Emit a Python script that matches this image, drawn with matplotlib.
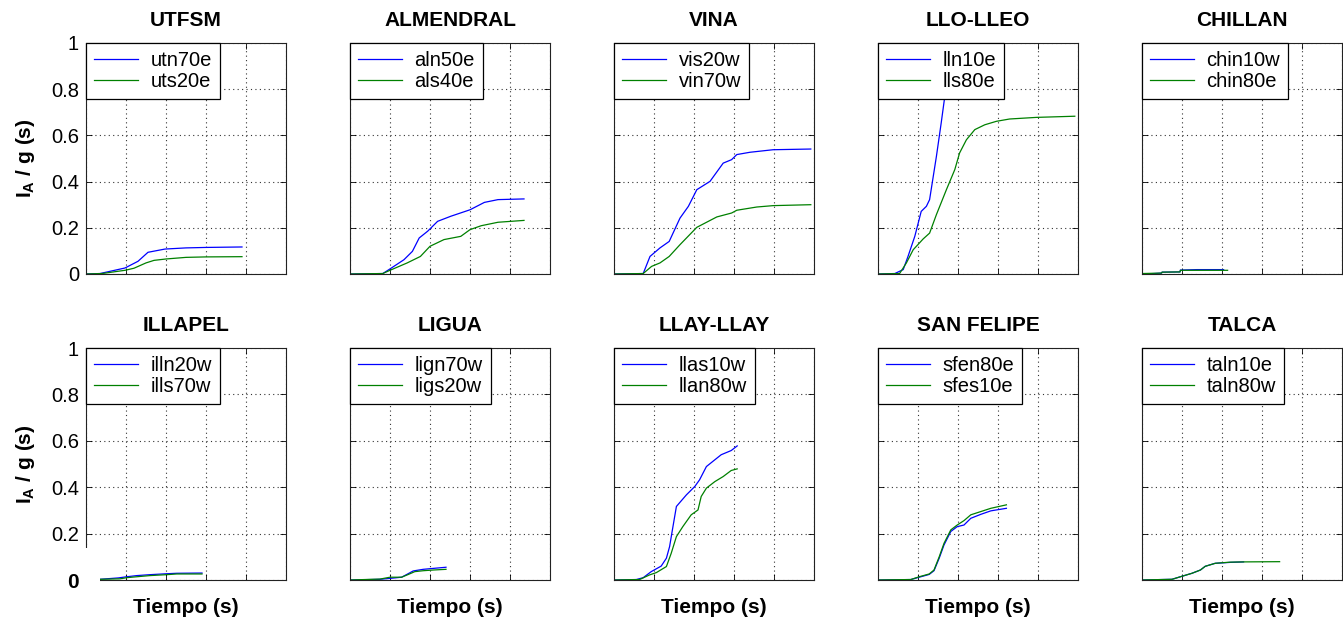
import matplotlib
matplotlib.use("Agg")
import matplotlib.pyplot as plt
from matplotlib.patches import Rectangle

plt.rcParams['font.family'] = ['Liberation Sans', 'DejaVu Sans']
plt.rcParams['mathtext.fontset'] = 'custom'
plt.rcParams['mathtext.rm'] = 'Liberation Sans'
plt.rcParams['mathtext.bf'] = 'Liberation Sans:bold'

# ---------------- data (time in s, Arias intensity I_A/g in s) ----------------
stations = ["UTFSM", "ALMENDRAL", "VINA", "LLO-LLEO", "CHILLAN",
            "ILLAPEL", "LIGUA", "LLAY-LLAY", "SAN FELIPE", "TALCA"]

names_1 = ["utn70e", "aln50e", "vis20w", "lln10e", "chin10w",
           "illn20w", "lign70w", "llas10w", "sfen80e", "taln10e"]
names_2 = ["uts20e", "als40e", "vin70w", "lls80e", "chin80e",
           "ills70w", "ligs20w", "llan80w", "sfes10e", "taln80w"]

# UTFSM
t_utn70e = [0, 3.5, 9.75, 13, 15.5, 19.75, 25, 30, 39]
ia_utn70e = [0, 0.002, 0.026, 0.055, 0.094, 0.108, 0.113, 0.115, 0.117]
t_uts20e = [0, 4, 9.75, 12, 15, 17, 20, 25, 30, 39]
ia_uts20e = [0, 0.002, 0.016, 0.025, 0.048, 0.059, 0.065, 0.072, 0.074, 0.075]

# ALMENDRAL
t_aln50e = [0, 8.2, 10, 13.5, 15.6, 17.3, 19.4, 21.9, 25.2, 30, 33.6, 37, 43.5]
ia_aln50e = [0, 0.002, 0.022, 0.062, 0.098, 0.156, 0.185, 0.228, 0.25, 0.278, 0.31, 0.322, 0.325]
t_als40e = [0, 8.2, 10, 14.3, 17.6, 20, 23.5, 27.7, 30, 32.8, 37, 43.5]
ia_als40e = [0, 0.002, 0.016, 0.048, 0.076, 0.12, 0.149, 0.163, 0.192, 0.209, 0.224, 0.232]

# VINA
t_vis20w = [0, 7.3, 9, 11.5, 13.8, 16.5, 18.6, 20.7, 24, 27.3, 29.4, 30.7, 34, 39.8, 49.2]
ia_vis20w = [0, 0.002, 0.076, 0.113, 0.141, 0.242, 0.293, 0.365, 0.401, 0.48, 0.495, 0.517, 0.527, 0.538, 0.541]
t_vin70w = [0, 7.3, 9.4, 11.5, 13.8, 16.5, 20.7, 25.7, 29.4, 30.7, 35.7, 39.8, 49.2]
ia_vin70w = [0, 0.002, 0.033, 0.048, 0.076, 0.127, 0.202, 0.247, 0.264, 0.276, 0.29, 0.296, 0.3]

# LLO-LLEO
t_lln10e = [0, 4.2, 6.3, 7.5, 9.2, 10.8, 12.1, 12.9, 14.6, 15.8, 16.7, 17.1, 17.6, 19, 22, 30, 45]
ia_lln10e = [0, 0.002, 0.019, 0.076, 0.163, 0.271, 0.293, 0.322, 0.509, 0.654, 0.769, 0.834, 0.9, 1.05, 1.2, 1.3, 1.35]
t_lls80e = [0, 5.4, 7.1, 8.8, 11.3, 12.9, 14.6, 17.1, 19.2, 20.4, 22.1, 24.2, 26.7, 29.6, 32.9, 39.6, 49.2]
ia_lls80e = [0, 0.002, 0.048, 0.105, 0.152, 0.177, 0.257, 0.365, 0.452, 0.524, 0.581, 0.625, 0.646, 0.661, 0.671, 0.678, 0.683]

# CHILLAN
t_chin10w = [0, 3, 4.9, 5, 9.5, 9.6, 13.7, 20.4]
ia_chin10w = [0, 0.002, 0.004, 0.008, 0.009, 0.017, 0.019, 0.019]
t_chin80e = [0, 4.9, 5, 9.5, 9.6, 21.4]
ia_chin80e = [0.002, 0.004, 0.008, 0.009, 0.016, 0.016]

# ILLAPEL
t_illn20w = [0, 3.5, 8.1, 10.2, 12.7, 16, 20.2, 22.7, 29]
ia_illn20w = [0, 0.003, 0.009, 0.014, 0.019, 0.023, 0.027, 0.029, 0.03]
t_ills70w = [0, 3.5, 8.5, 10.2, 12.7, 16, 20.2, 22.7, 29]
ia_ills70w = [0, 0.003, 0.005, 0.01, 0.014, 0.019, 0.023, 0.026, 0.026]

# LIGUA
t_lign70w = [0, 7.5, 10, 12.9, 14.2, 15.8, 18.3, 20.8, 24]
ia_lign70w = [0, 0.003, 0.007, 0.012, 0.024, 0.039, 0.046, 0.05, 0.055]
t_ligs20w = [0, 7.5, 10, 12.9, 14.6, 16.2, 18.3, 20.8, 24]
ia_ligs20w = [0, 0.004, 0.012, 0.012, 0.024, 0.036, 0.04, 0.043, 0.046]

# LLAY-LLAY
t_llas10w = [0, 5.6, 7.3, 9.3, 11.8, 13.1, 13.9, 14.6, 15.6, 16.8, 18.1, 20.2, 21.4, 23.1, 25.2, 26.8, 29.3, 30.8]
ia_llas10w = [0, 0.002, 0.01, 0.036, 0.06, 0.094, 0.144, 0.216, 0.317, 0.341, 0.367, 0.403, 0.432, 0.489, 0.518, 0.54, 0.558, 0.578]
t_llan80w = [0, 6.4, 8.9, 10.6, 13.1, 14.3, 15.6, 17.2, 19.3, 21, 21.8, 23.1, 25.2, 27.3, 29.3, 30.8]
ia_llan80w = [0, 0.002, 0.022, 0.032, 0.058, 0.115, 0.187, 0.23, 0.281, 0.302, 0.36, 0.396, 0.424, 0.446, 0.472, 0.479]

# SAN FELIPE
t_sfen80e = [0, 8.2, 10.3, 12.8, 14, 15.3, 16.5, 18.2, 19.8, 21.5, 23.2, 25.7, 28.2, 32.1]
ia_sfen80e = [0, 0.002, 0.012, 0.024, 0.04, 0.094, 0.151, 0.209, 0.23, 0.237, 0.266, 0.283, 0.298, 0.309]
t_sfes10e = [0, 8.2, 10.3, 12.8, 14, 15.3, 16.5, 18.2, 19.8, 21.5, 23.2, 25.7, 28.2, 32.1]
ia_sfes10e = [0, 0.002, 0.014, 0.026, 0.043, 0.1, 0.158, 0.216, 0.237, 0.256, 0.281, 0.295, 0.309, 0.324]

# TALCA
t_taln10e = [0, 7.5, 9.6, 12.5, 14.6, 15.8, 18.3, 22.1, 25.4]
ia_taln10e = [0, 0.003, 0.014, 0.029, 0.043, 0.059, 0.072, 0.076, 0.078]
t_taln80w = [0, 7.5, 9.6, 12.5, 14.6, 15.8, 18.3, 22.1, 25.4, 34.4]
ia_taln80w = [0, 0.003, 0.014, 0.029, 0.043, 0.059, 0.072, 0.077, 0.078, 0.079]

series_1 = [(t_utn70e, ia_utn70e), (t_aln50e, ia_aln50e), (t_vis20w, ia_vis20w),
            (t_lln10e, ia_lln10e), (t_chin10w, ia_chin10w), (t_illn20w, ia_illn20w),
            (t_lign70w, ia_lign70w), (t_llas10w, ia_llas10w), (t_sfen80e, ia_sfen80e),
            (t_taln10e, ia_taln10e)]
series_2 = [(t_uts20e, ia_uts20e), (t_als40e, ia_als40e), (t_vin70w, ia_vin70w),
            (t_lls80e, ia_lls80e), (t_chin80e, ia_chin80e), (t_ills70w, ia_ills70w),
            (t_ligs20w, ia_ligs20w), (t_llan80w, ia_llan80w), (t_sfes10e, ia_sfes10e),
            (t_taln80w, ia_taln80w)]

x_ticks = [0, 10, 20, 30, 40, 50]
y_ticks = [0, 0.2, 0.4, 0.6, 0.8, 1]
y_ticklabels = ["0", "0.2", "0.4", "0.6", "0.8", "1"]
ylabel_text = r"$\mathbf{I_A}$ / g (s)"
xlabel_text = "Tiempo (s)"

# ---------------- figure ----------------
W, H = 1343, 619
fig = plt.figure(figsize=(W / 100, H / 100), dpi=100)

col_left = [86, 350, 614, 878, 1142]
row_top = [43, 348]
row_bot = [274, 580]
ax_w = 200

BLUE = (0, 0, 1)
GREEN = (0, 0.5, 0)

for i, st in enumerate(stations):
    r, c = divmod(i, 5)
    left = col_left[c] / W
    bottom = 1 - row_bot[r] / H
    height = (row_bot[r] - row_top[r]) / H
    ax = fig.add_axes([left, bottom, ax_w / W, height])
    (t1, v1), (t2, v2) = series_1[i], series_2[i]
    ax.plot(t1, v1, color=BLUE, lw=0.9, label=names_1[i])
    ax.plot(t2, v2, color=GREEN, lw=0.9, label=names_2[i])
    ax.set_xlim(0, 50)
    ax.set_ylim(0, 1)
    ax.set_xticks(x_ticks)
    ax.set_yticks(y_ticks)
    ax.set_xticklabels([])
    if c == 0:
        ax.set_yticklabels(y_ticklabels, fontsize=14.5)
        ax.set_ylabel(ylabel_text, fontsize=15, fontweight='bold', labelpad=10)
    else:
        ax.set_yticklabels([])
    if r == 1:
        ax.set_xlabel(xlabel_text, fontsize=15, fontweight='bold', labelpad=8)
    ax.set_title(st, fontsize=15, fontweight='bold', pad=12)
    ax.tick_params(direction='in', length=4, width=0.6, top=True, right=True, pad=5)
    ax.grid(True, color='#333333', linestyle=(0, (1, 3)), linewidth=0.8)
    for sp in ax.spines.values():
        sp.set_linewidth(0.8)
        sp.set_color('#222222')
    leg = ax.legend(loc='upper left', bbox_to_anchor=(0, 1), borderaxespad=0,
                    fontsize=14.5, fancybox=False, framealpha=1, edgecolor='black',
                    handlelength=2.2, handletextpad=0.6, borderpad=0.4,
                    labelspacing=0.1)
    leg.get_frame().set_linewidth(0.9)
    leg.set_zorder(20)
    if st == "ILLAPEL":
        ax.add_patch(Rectangle((-0.012, -0.02), 0.082, 0.158, transform=ax.transAxes,
                               facecolor='white', edgecolor='none', clip_on=False,
                               zorder=10))
        lbl = ax.get_yticklabels()[0]
        lbl.set_fontweight('bold')
        lbl.set_fontsize(15)

fig.savefig("out.png", dpi=100)
